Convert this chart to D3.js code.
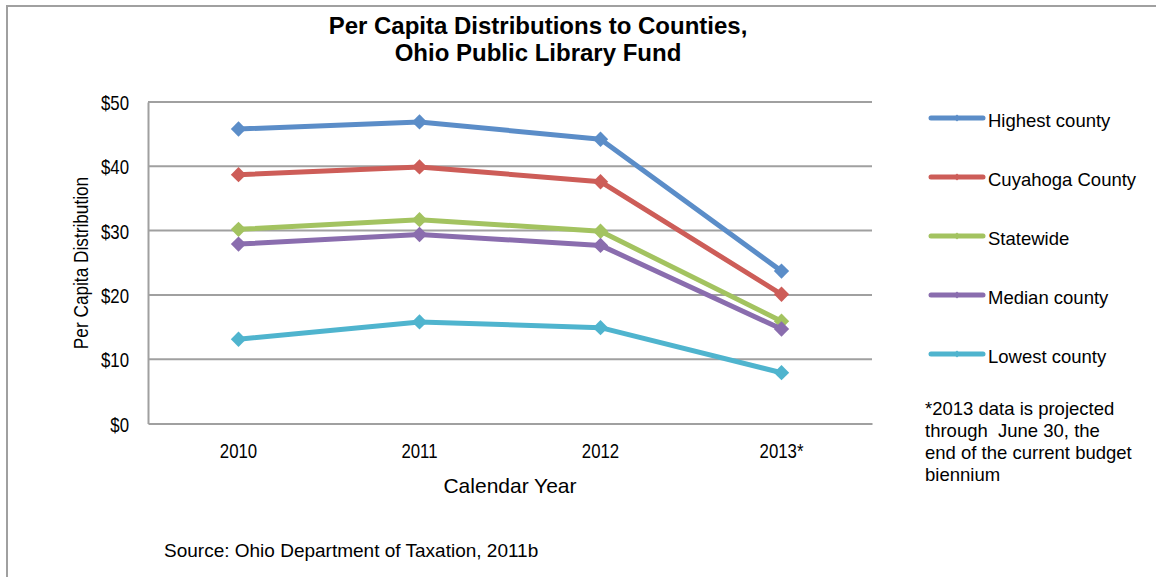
<!DOCTYPE html>
<html><head><meta charset="utf-8">
<script src="https://cdn.jsdelivr.net/npm/d3@7"></script>
<style>
html,body{margin:0;padding:0;background:#fff;}
svg{display:block;}
.narrow{font-family:"Liberation Sans",Arial,sans-serif;}
.sans{font-family:"Liberation Sans",Arial,sans-serif;}
</style></head>
<body>
<svg id="chart" width="1156" height="577"></svg>
<script>
const years = ["2010", "2011", "2012", "2013*"];
const seriesNames = ["Highest county", "Cuyahoga County", "Statewide", "Median county", "Lowest county"];
const highest = [45.8, 46.9, 44.2, 23.7];
const cuyahoga = [38.7, 39.9, 37.6, 20.1];
const statewide = [30.2, 31.7, 29.9, 15.9];
const median = [27.9, 29.4, 27.7, 14.7];
const lowest = [13.1, 15.8, 14.9, 7.9];
const yTicks = [0, 10, 20, 30, 40, 50];
const colors = ["#5B8DC8", "#CD5D58", "#A3C360", "#8A6DAE", "#4FB4CE"];
const seriesValues = [highest, cuyahoga, statewide, median, lowest];

const svg = d3.select("#chart");
const W = 1156, H = 577;
const plot = {left: 148, right: 872, top: 102, bottom: 423.5};

function condense(sel, f) {
  sel.each(function() {
    const len = this.getComputedTextLength();
    d3.select(this).attr("textLength", len * f).attr("lengthAdjust", "spacingAndGlyphs");
  });
}

// outer border
svg.append("rect").attr("x", 7).attr("y", 6).attr("width", W + 10).attr("height", H + 10)
  .attr("fill", "none").attr("stroke", "#a0a0a0").attr("stroke-width", 2);

// title
const title = svg.append("text").attr("class", "sans").attr("text-anchor", "middle")
  .attr("font-weight", "bold").attr("font-size", 24).attr("fill", "#000");
title.append("tspan").attr("x", 538).attr("y", 34).text("Per Capita Distributions to Counties,");
title.append("tspan").attr("x", 538).attr("y", 61).text("Ohio Public Library Fund");

const x = d3.scaleBand().domain(years).range([plot.left, plot.right]).paddingInner(0).paddingOuter(0);
const y = d3.scaleLinear().domain([0, 50]).range([plot.bottom, plot.top]);

// gridlines
svg.append("g").selectAll("line").data(yTicks.filter(d => d > 0)).join("line")
  .attr("x1", plot.left).attr("x2", plot.right)
  .attr("y1", d => y(d)).attr("y2", d => y(d))
  .attr("stroke", "#a0a0a0").attr("stroke-width", 2);

// y axis
const yAxis = svg.append("g").attr("transform", `translate(${plot.left},0)`)
  .call(d3.axisLeft(y).tickValues(yTicks).tickFormat(d => "$" + d).tickSize(0).tickPadding(19));
yAxis.select(".domain").attr("stroke", "#a0a0a0").attr("stroke-width", 2);
yAxis.selectAll("text").attr("class", "narrow").attr("font-size", 21).attr("fill", "#000")
  .attr("font-family", "Liberation Sans, Arial, sans-serif")
  .attr("dy", "0.36em").call(condense, 0.8);

// x axis
const xAxis = svg.append("g").attr("transform", `translate(0,${plot.bottom})`)
  .call(d3.axisBottom(x).tickSize(0).tickPadding(20));
xAxis.select(".domain").attr("stroke", "#a0a0a0").attr("stroke-width", 2);
xAxis.selectAll("text").attr("class", "narrow").attr("font-size", 21).attr("fill", "#000")
  .attr("font-family", "Liberation Sans, Arial, sans-serif").call(condense, 0.8);

// axis titles
svg.append("text").attr("class", "sans").attr("text-anchor", "middle").attr("font-size", 21)
  .attr("x", 510).attr("y", 493).attr("fill", "#000").text("Calendar Year");
svg.append("text").attr("class", "narrow").attr("text-anchor", "middle").attr("font-size", 21)
  .attr("transform", "translate(88,263) rotate(-90)").attr("fill", "#000").text("Per Capita Distribution")
  .call(condense, 0.82);

// lines
const line = d3.line().x((d, i) => x(years[i]) + x.bandwidth() / 2).y(d => y(d));
const diamond = d3.symbol().type(d3.symbolDiamond2).size(150);
seriesValues.forEach((vals, s) => {
  const g = svg.append("g");
  g.append("path").datum(vals).attr("d", line).attr("fill", "none")
    .attr("stroke", colors[s]).attr("stroke-width", 5).attr("stroke-linejoin", "round");
  g.selectAll("path.m").data(vals).join("path").attr("class", "m")
    .attr("d", diamond)
    .attr("transform", (d, i) => `translate(${x(years[i]) + x.bandwidth() / 2},${y(d)})`)
    .attr("fill", colors[s]);
});

// legend
const legend = svg.append("g");
seriesNames.forEach((name, i) => {
  const ly = 118 + i * 59;
  legend.append("line").attr("x1", 931).attr("x2", 983).attr("y1", ly).attr("y2", ly)
    .attr("stroke", colors[i]).attr("stroke-width", 5).attr("stroke-linecap", "round");
  legend.append("path").attr("d", d3.symbol().type(d3.symbolDiamond2).size(30))
    .attr("transform", `translate(957,${ly})`).attr("fill", colors[i]);
  legend.append("text").attr("class", "sans").attr("x", 988).attr("y", ly + 9)
    .attr("font-size", 18.5).attr("fill", "#000").text(name);
});

// footnote
const note = ["*2013 data is projected", "through  June 30, the", "end of the current budget", "biennium"];
const noteText = svg.append("text").attr("class", "sans").attr("font-size", 18.5).attr("fill", "#000")
  .attr("xml:space", "preserve").style("white-space", "pre");
note.forEach((t, i) => {
  noteText.append("tspan").attr("x", 925).attr("y", 415 + i * 22).text(t);
});

// source
svg.append("text").attr("class", "sans").attr("font-size", 19).attr("fill", "#000")
  .attr("x", 164).attr("y", 557).text("Source: Ohio Department of Taxation, 2011b");
</script>
</body></html>
